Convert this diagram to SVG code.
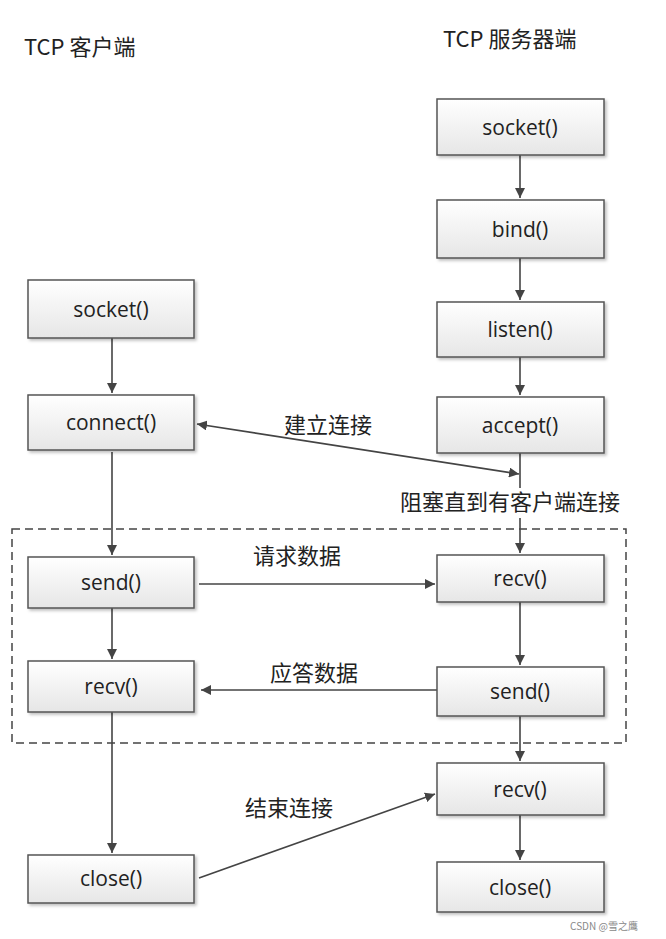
<svg xmlns="http://www.w3.org/2000/svg" width="666" height="939" viewBox="0 0 666 939">
<style>
.b{fill:url(#g);stroke:#555;stroke-width:1.5;filter:url(#s)}
.t{font-family:"Open Sans","DejaVu Sans",sans-serif;font-size:21px;fill:#222;text-anchor:middle}
.c{font-family:"Noto Sans CJK SC",sans-serif;font-size:22px;fill:#222}
.l{stroke:#444;stroke-width:1.6;fill:none}
</style>
<defs>
<linearGradient id="g" x1="0" y1="0" x2="0" y2="1"><stop offset="0" stop-color="#fff"/><stop offset="1" stop-color="#e6e6e6"/></linearGradient>
<filter id="s" x="-10%" y="-10%" width="125%" height="140%"><feDropShadow dx="2" dy="2" stdDeviation="1.5" flood-color="#000" flood-opacity="0.25"/></filter>
<marker id="a" viewBox="0 0 10 10" refX="10" refY="5" markerWidth="10" markerHeight="10" markerUnits="userSpaceOnUse" orient="auto-start-reverse"><path d="M0,0L10,5L0,10z" fill="#444"/></marker>
</defs>
<rect width="666" height="939" fill="#fff"/>
<text class="c" x="24" y="55">TCP 客户端</text>
<text class="c" x="443" y="47">TCP 服务器端</text>
<rect x="12" y="529" width="614" height="214" fill="none" stroke="#444" stroke-width="1.5" stroke-dasharray="8,5"/>
<g id="connectors">
<path class="l" d="M520,155V198" marker-end="url(#a)"/>
<path class="l" d="M520,258V300" marker-end="url(#a)"/>
<path class="l" d="M520,357V395" marker-end="url(#a)"/>
<path class="l" d="M520,453V488"/>
<path class="l" d="M520,518V553" marker-end="url(#a)"/>
<path class="l" d="M520,602V665" marker-end="url(#a)"/>
<path class="l" d="M520,716V761" marker-end="url(#a)"/>
<path class="l" d="M520,815V860" marker-end="url(#a)"/>
<path class="l" d="M112,338V393" marker-end="url(#a)"/>
<path class="l" d="M112,452V555" marker-end="url(#a)"/>
<path class="l" d="M112,608V659" marker-end="url(#a)"/>
<path class="l" d="M112,712V853" marker-end="url(#a)"/>
<path class="l" d="M197,424L519,474" marker-start="url(#a)" marker-end="url(#a)"/>
<path class="l" d="M199,584H435" marker-end="url(#a)"/>
<path class="l" d="M437,690H201" marker-end="url(#a)"/>
<path class="l" d="M199,878L435,794" marker-end="url(#a)"/>
<text class="c" x="284" y="433">建立连接</text>
<text class="c" x="400" y="510" font-size="18">阻塞直到有客户端连接</text>
<text class="c" x="253" y="564">请求数据</text>
<text class="c" x="270" y="681">应答数据</text>
<text class="c" x="245" y="816">结束连接</text>
</g>
<g id="s_socket"><rect class="b" x="437" y="99" width="167" height="56"/><text class="t" x="520" y="135">socket()</text></g>
<g id="s_bind"><rect class="b" x="437" y="200" width="167" height="58"/><text class="t" x="520" y="237">bind()</text></g>
<g id="s_listen"><rect class="b" x="437" y="302" width="167" height="55"/><text class="t" x="520" y="337">listen()</text></g>
<g id="s_accept"><rect class="b" x="437" y="397" width="167" height="56"/><text class="t" x="520" y="433">accept()</text></g>
<g id="s_recv"><rect class="b" x="437" y="555" width="167" height="47"/><text class="t" x="520" y="586">recv()</text></g>
<g id="s_send"><rect class="b" x="437" y="667" width="167" height="49"/><text class="t" x="520" y="699">send()</text></g>
<g id="s_recv2"><rect class="b" x="437" y="763" width="167" height="52"/><text class="t" x="520" y="797">recv()</text></g>
<g id="s_close"><rect class="b" x="437" y="862" width="167" height="50"/><text class="t" x="520" y="895">close()</text></g>
<g id="c_socket"><rect class="b" x="28" y="280" width="166" height="58"/><text class="t" x="111" y="317">socket()</text></g>
<g id="c_connect"><rect class="b" x="28" y="395" width="166" height="55"/><text class="t" x="111" y="430">connect()</text></g>
<g id="c_send"><rect class="b" x="28" y="557" width="166" height="51"/><text class="t" x="111" y="590">send()</text></g>
<g id="c_recv"><rect class="b" x="28" y="661" width="166" height="51"/><text class="t" x="111" y="694">recv()</text></g>
<g id="c_close"><rect class="b" x="28" y="855" width="166" height="48"/><text class="t" x="111" y="886">close()</text></g>
<text x="604" y="930" font-family="'Noto Sans CJK SC',sans-serif" font-size="10" fill="#888" text-anchor="middle">CSDN @雪之鹰</text>
</svg>
